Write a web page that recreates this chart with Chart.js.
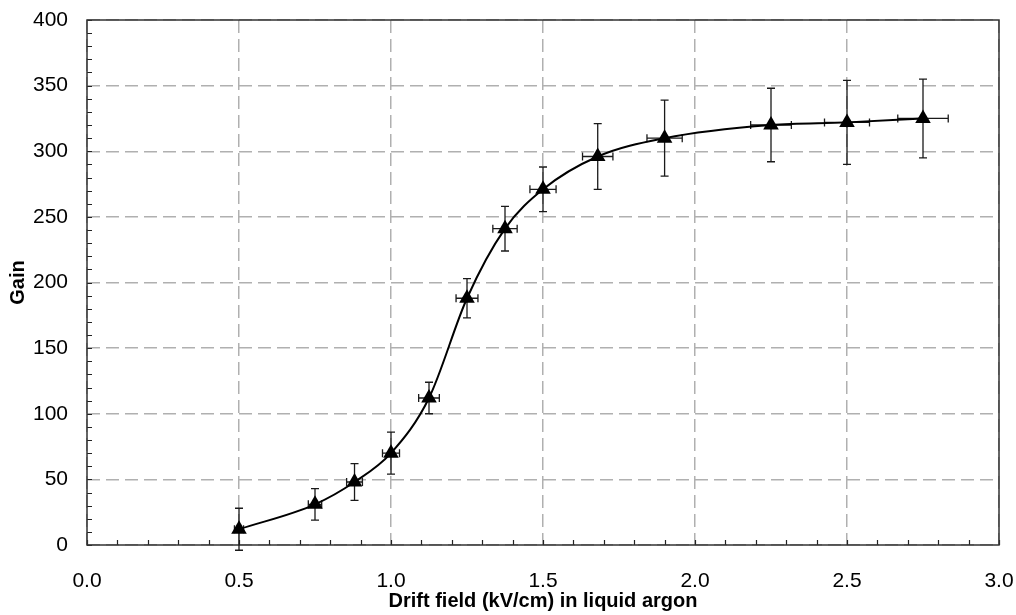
<!DOCTYPE html>
<html>
<head>
<meta charset="utf-8">
<script src="https://cdn.jsdelivr.net/npm/chart.js@4"></script>
<style>
  body { margin: 0; background: #fff; }
  #wrap { width: 1016px; height: 615px; }
</style>
</head>
<body>
<div id="wrap"><canvas id="chart" width="1016" height="615"></canvas></div>
<script>
// drift field (kV/cm) and measured gain, with error bars
const fieldKV = [0.5, 0.75, 0.88, 1.0, 1.125, 1.25, 1.375, 1.5, 1.68, 1.9, 2.25, 2.5, 2.75];
const gain = [12, 31, 48, 70, 112, 188, 241, 271, 296, 310, 320, 322, 325];
const gainErr = [16, 12, 14, 16, 12, 15, 17, 17, 25, 29, 28, 32, 30];
const fieldErr = [0.015, 0.022, 0.026, 0.028, 0.034, 0.036, 0.04, 0.043, 0.05, 0.058, 0.067, 0.074, 0.083];

const xMax = 3.0;
const yMax = 400;

const ctx = document.getElementById('chart');

// error bars + inward minor ticks + frame
const decor = {
  id: 'decor',
  beforeDatasetsDraw(chart) {
    const { ctx, scales: { x, y }, chartArea: a } = chart;
    ctx.save();
    ctx.strokeStyle = '#222';
    ctx.lineWidth = 1.2;
    // minor ticks, pointing inward
    ctx.beginPath();
    for (let v = 0; v <= yMax; v += 10) {
      const py = Math.round(y.getPixelForValue(v)) + 0.5;
      ctx.moveTo(a.left, py);
      ctx.lineTo(a.left + 5, py);
    }
    for (let i = 0; i <= 30; i++) {
      const px = Math.round(x.getPixelForValue(i / 10)) + 0.5;
      ctx.moveTo(px, a.bottom);
      ctx.lineTo(px, a.bottom - 5);
    }
    ctx.stroke();
    // frame
    ctx.strokeStyle = '#333';
    ctx.lineWidth = 1.5;
    ctx.strokeRect(a.left, a.top, a.right - a.left, a.bottom - a.top);

    // error bars
    ctx.strokeStyle = '#1a1a1a';
    ctx.lineWidth = 1.3;
    ctx.beginPath();
    fieldKV.forEach((fx, i) => {
      const px = x.getPixelForValue(fx);
      const py = y.getPixelForValue(gain[i]);
      const yt = y.getPixelForValue(gain[i] + gainErr[i]);
      const yb = y.getPixelForValue(gain[i] - gainErr[i]);
      ctx.moveTo(px, yt); ctx.lineTo(px, yb);
      ctx.moveTo(px - 4, yt); ctx.lineTo(px + 4, yt);
      ctx.moveTo(px - 4, yb); ctx.lineTo(px + 4, yb);
      const xl = x.getPixelForValue(fx - fieldErr[i]);
      const xr = x.getPixelForValue(fx + fieldErr[i]);
      ctx.moveTo(xl, py); ctx.lineTo(xr, py);
      ctx.moveTo(xl, py - 4); ctx.lineTo(xl, py + 4);
      ctx.moveTo(xr, py - 4); ctx.lineTo(xr, py + 4);
    });
    ctx.stroke();
    ctx.restore();
  }
};

const tickFont = { family: 'Liberation Sans, Arial', size: 21 };
const titleFont = { family: 'Liberation Sans, Arial', size: 20, weight: 'bold' };

new Chart(ctx, {
  type: 'line',
  plugins: [decor],
  data: {
    datasets: [{
      data: fieldKV.map((v, i) => ({ x: v, y: gain[i] })),
      borderColor: '#000',
      borderWidth: 2,
      backgroundColor: '#000',
      cubicInterpolationMode: 'monotone',
      pointStyle: 'triangle',
      pointRadius: 9,
      pointBorderWidth: 0,
      pointBackgroundColor: '#000',
      clip: false
    }]
  },
  options: {
    responsive: false,
    animation: false,
    layout: { padding: { top: 20, right: 17, left: 0, bottom: 0 } },
    plugins: { legend: { display: false }, tooltip: { enabled: false } },
    scales: {
      x: {
        type: 'linear',
        min: 0, max: xMax,
        afterFit: (s) => { s.height = 70; s.paddingLeft = 0; s.paddingRight = 0; },
        ticks: {
          stepSize: 0.5,
          padding: 24,
          color: '#000',
          font: tickFont,
          callback: (v) => v.toFixed(1),
          maxRotation: 0
        },
        grid: { color: '#b0b0b0', lineWidth: 1.5, drawTicks: false },
        border: { display: false, dash: [13, 6] },
        title: {
          display: true,
          text: 'Drift field (kV/cm) in liquid argon',
          color: '#000',
          font: titleFont,
          padding: { top: 0, bottom: 2 }
        }
      },
      y: {
        min: 0, max: yMax,
        afterFit: (s) => { s.width = 87; s.paddingTop = 0; s.paddingBottom = 0; },
        ticks: {
          stepSize: 50,
          padding: 19,
          color: '#000',
          font: tickFont
        },
        grid: { color: '#b0b0b0', lineWidth: 1.5, drawTicks: false },
        border: { display: false, dash: [13, 6] },
        title: {
          display: true,
          text: 'Gain',
          color: '#000',
          font: titleFont,
          padding: { top: 6, bottom: 0 }
        }
      }
    }
  }
});
</script>
</body>
</html>
